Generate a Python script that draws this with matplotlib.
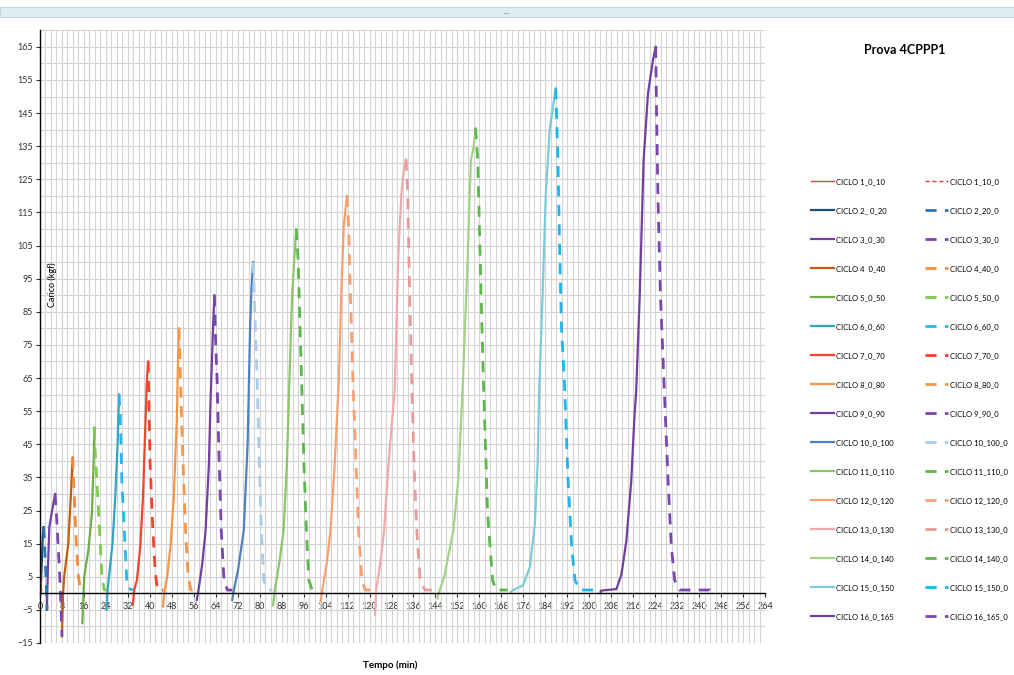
import matplotlib
matplotlib.use("Agg")
import matplotlib.pyplot as plt
from matplotlib.ticker import MultipleLocator, FixedLocator
from matplotlib.patches import Rectangle

plt.rcParams['font.family'] = ['Lato', 'DejaVu Sans']

# ---- data ----
labels_up = ["CICLO 1_0_10", "CICLO 2_ 0_20", "CICLO 3_0_30", "CICLO 4  0_40",
             "CICLO 5_0_50", "CICLO 6_0_60", "CICLO 7_0_70", "CICLO 8_0_80",
             "CICLO 9_0_90", "CICLO 10_0_100", "CICLO 11_0_110", "CICLO 12_0_120",
             "CICLO 13_0_130", "CICLO 14_0_140", "CICLO 15_0_150", "CICLO 16_0_165"]
labels_down = ["CICLO 1_10_0", "CICLO 2_20_0", "CICLO 3_30_0", "CICLO 4_40_0",
               "CICLO 5_50_0", "CICLO 6_60_0", "CICLO 7_70_0", "CICLO 8_80_0",
               "CICLO 9_90_0", "CICLO 10_100_0", "CICLO 11_110_0", "CICLO 12_120_0",
               "CICLO 13_130_0", "CICLO 14_140_0", "CICLO 15_150_0", "CICLO 16_165_0"]

# loading (solid) curves: tempo (min) / carico (kgf)
load_t = [
    [0.0, 0.1, 0.2],
    [0.2, 0.6, 1.0, 1.3],
    [2.5, 2.9, 3.4, 4.3, 5.5],
    [8.0, 8.4, 8.8, 10.3, 11.2, 11.9],
    [15.4, 16.1, 17.6, 18.9, 19.5, 19.8],
    [24.2, 24.6, 25.5, 26.4, 27.4, 28.2, 28.8],
    [33.8, 34.3, 35.3, 36.5, 37.5, 38.3, 38.9, 39.4],
    [44.8, 45.2, 46.3, 47.5, 48.7, 49.8, 50.3, 50.6],
    [57.1, 57.9, 59.1, 60.3, 61.5, 62.1, 63.0, 63.5],
    [70.0, 70.6, 72.1, 74.2, 75.6, 76.5, 77.0, 77.6],
    [84.9, 85.5, 87.1, 88.7, 89.9, 90.8, 91.8, 92.6, 93.3],
    [102.2, 102.8, 104.4, 105.8, 107.3, 108.8, 109.7, 110.6, 111.8],
    [122.0, 122.4, 123.9, 125.3, 126.9, 129.2, 130.4, 131.6, 132.5, 133.3],
    [144.7, 145.5, 147.2, 150.5, 152.3, 153.9, 155.7, 156.9, 157.9, 158.6],
    [171.5, 172.3, 175.9, 178.4, 180.2, 181.2, 181.8, 183.0, 184.2, 185.6, 187.8],
    [204.1, 204.2, 209.9, 211.7, 213.5, 215.3, 216.5, 217.1, 218.4, 219.8, 221.4, 223.2, 224.2],
]
load_y = [
    [0, 5, 10],
    [0, 8, 17, 20],
    [-5, 8, 20, 24.5, 30],
    [-13, 0, 5, 15, 29, 41],
    [-9, 5, 13, 24, 39, 50],
    [-5, 0.8, 8, 15, 29, 44, 60],
    [-3.5, 1, 4, 14, 29, 49, 64, 70],
    [-4, 0, 5, 14, 29, 52, 72, 80],
    [-2, 2, 9, 19, 39, 58, 80, 90],
    [-2, 1, 7, 19, 45, 80, 92, 100],
    [-3.6, 1, 9, 19, 39, 64, 90, 101, 110],
    [-2.3, 1, 9, 19, 39, 64, 90.5, 110.7, 120],
    [-6.6, 1, 9, 19, 39, 62, 100.6, 120.7, 127.7, 131],
    [-1.5, 1, 4.9, 19, 34, 62, 100.6, 130.8, 134.8, 140.5],
    [0.4, 1, 2.4, 8, 21, 39, 62, 90, 121, 140, 152.5],
    [0, 0.8, 1.3, 5.6, 15.7, 34, 54, 61, 90.5, 130.8, 151, 161, 165],
]

# unloading (dashed) curves
unload_t = [
    [0.2, 0.4, 0.6],
    [1.3, 1.6, 2.0, 2.4, 2.6],
    [5.5, 5.9, 6.5, 7.1, 7.6, 8.0],
    [11.9, 12.2, 12.7, 13.1, 14.0, 14.6, 15.2],
    [19.8, 20.0, 20.7, 21.7, 22.5, 23.4, 24.2],
    [28.8, 29.2, 29.8, 31.0, 31.6, 32.2, 33.8],
    [39.4, 39.6, 40.1, 41.1, 42.0, 42.8, 44.8],
    [50.6, 51.0, 51.3, 52.1, 53.0, 53.9, 54.9, 56.7],
    [63.5, 64.0, 64.5, 65.1, 66.0, 67.0, 68.2, 70.0],
    [77.6, 78.2, 79.1, 79.7, 80.6, 81.5, 82.8, 84.6],
    [93.3, 94.0, 94.7, 95.3, 96.1, 97.0, 97.9, 99.1, 101.9],
    [111.8, 112.4, 113.0, 114.0, 115.1, 116.0, 117.2, 118.4, 122.0],
    [133.3, 133.9, 134.6, 135.4, 136.2, 137.2, 138.4, 140.2, 144.4],
    [158.6, 159.4, 160.6, 161.5, 163.0, 164.8, 166.0, 170.3],
    [187.8, 188.6, 189.3, 189.9, 191.0, 192.3, 193.6, 194.8, 196.6, 203.8],
    [224.2, 224.4, 225.0, 225.9, 227.3, 228.7, 229.9, 231.1, 232.9, 243.8, 243.9],
]
unload_y = [
    [10, 4, 0],
    [20, 16, 8, 0, -5],
    [30, 25, 16, 7, -3, -13],
    [41, 35, 25, 17, 5, 2, 0],
    [50, 44, 34, 19, 6, 1, 1],
    [60, 54, 34, 14, 4, 1.5, 1],
    [70, 59, 39, 19, 6, 1, 1],
    [80, 70, 60, 39, 19, 6, 1, 1],
    [90, 75, 64, 44, 19, 4, 1, 1],
    [100, 85, 64, 44, 19, 4, 1, 1],
    [110, 100.6, 80, 63, 39, 19, 4, 1, 1],
    [120, 110.7, 90.5, 63, 39, 19, 4, 1, 1],
    [131, 120.7, 90.5, 63, 39, 19, 4, 1, 1],
    [140.5, 130.8, 90.6, 63, 24, 4, 1, 1],
    [152.5, 130.8, 100.6, 80, 63, 34, 14, 4, 1, 1],
    [165, 151, 120.7, 90.5, 62, 34, 14, 4, 1, 1, 0],
]

colors_up = ['#EE3B3B', '#1F4E79', '#7040A0', '#C55A11', '#70AD47', '#31A5C0',
             '#F0442C', '#F79646', '#7040A0', '#4F81BD', '#8CC56A', '#F8A070',
             '#F0AAAA', '#A5D08A', '#7CCBDB', '#7040A0']
colors_down = ['#EE3B3B', '#2E75B6', '#7B45B0', '#F58A3C', '#7ACC4A', '#29B6F0',
               '#F0442C', '#F79646', '#7B45B0', '#A9CCEB', '#5DB84A', '#F8A070',
               '#E89A9A', '#5DB84A', '#1EB4EC', '#7B45B0']

# ---- figure ----
fig = plt.figure(figsize=(10.14, 6.75), dpi=100)
ax = fig.add_axes([40 / 1014, 1 - 643 / 675, 725 / 1014, 612.7 / 675])

handles_up = []
handles_down = []
for i in range(16):
    lw = 1.0 if i == 0 else 1.6
    h, = ax.plot(load_t[i], load_y[i], color=colors_up[i], lw=lw, label=labels_up[i])
    handles_up.append(h)
for i in range(16):
    lw = 1.0 if i == 0 else 2.0
    dash = (3, 2) if i == 0 else (4, 3)
    h, = ax.plot(unload_t[i], unload_y[i], color=colors_down[i], lw=lw,
                 dashes=dash, label=labels_down[i])
    handles_down.append(h)

ax.set_xlim(0, 264)
ax.set_ylim(-15, 170)
ax.xaxis.set_major_locator(MultipleLocator(8))
ax.xaxis.set_minor_locator(MultipleLocator(2))
ax.yaxis.set_major_locator(FixedLocator(list(range(-15, 170, 10))))
ax.yaxis.set_minor_locator(MultipleLocator(5))
ax.grid(True, which='both', color='#D4D4D4', lw=0.8)
ax.set_axisbelow(True)

ax.spines['top'].set_visible(False)
ax.spines['right'].set_visible(False)
ax.spines['bottom'].set_position(('data', 0))
ax.spines['bottom'].set_linewidth(1.0)
ax.spines['left'].set_linewidth(1.0)
ax.tick_params(which='major', labelsize=6.5, colors='#333333', length=3, width=0.8, pad=2)
ax.tick_params(axis='x', which='major', pad=3)
ax.tick_params(which='minor', length=0)
ax.tick_params(axis='x', direction='out')

ax.text(0.017, 0.584, 'Carico (kgf)', transform=ax.transAxes, rotation=90,
        fontsize=6.5, ha='center', va='center')
fig.text(390 / 1014, 1 - 665 / 675, 'Tempo (min)', fontsize=7, fontweight='bold',
         ha='center', va='center')
fig.text(905 / 1014, 1 - 50 / 675, 'Prova 4CPPP1', fontsize=9, fontweight='bold',
         ha='center', va='center')

fig.legend(handles_up + handles_down, labels_up + labels_down, ncol=2,
           loc='upper left', bbox_to_anchor=(811 / 1014, 1 - 178 / 675),
           frameon=False, fontsize=5.5, handlelength=3.0, handletextpad=0.3,
           labelspacing=2.88, columnspacing=4.0, borderpad=0, borderaxespad=0)

# excel split bar at top
fig.add_artist(Rectangle((0, 1 - 17 / 675), 1, 10 / 675, transform=fig.transFigure,
                         facecolor='#DDEBF3', edgecolor='#B8D0DE', lw=0.6))
fig.text(0.5, 1 - 12 / 675, '....', fontsize=5, color='#777777', ha='center', va='center')

fig.savefig('out.png', dpi=100)
